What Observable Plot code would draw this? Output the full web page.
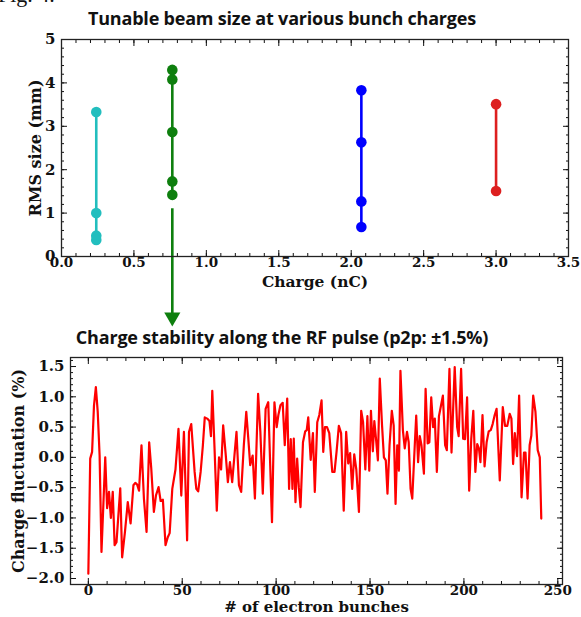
<!DOCTYPE html>
<html><head><meta charset="utf-8">
<script src="https://cdn.jsdelivr.net/npm/d3@7"></script>
<script src="https://cdn.jsdelivr.net/npm/@observablehq/plot@0.6"></script>
<style>
body{margin:0;background:#fff;}
#wrap{position:relative;width:581px;height:617px;overflow:hidden;background:#fff;}
.title{position:absolute;left:0;width:564px;text-align:center;font-family:"Open Sans";font-weight:700;font-size:18px;color:#111;white-space:nowrap;line-height:22px;letter-spacing:-0.2px;}
#fig{position:absolute;left:-2px;top:-18px;font-family:"Liberation Serif";font-size:22px;color:#111;line-height:25px;}
#top{position:absolute;left:0;top:0;}
#bottom{position:absolute;left:0;top:325px;}
</style></head>
<body><div id="wrap">
<div id="bottom"></div>
<div id="top"></div>
<div id="fig">Fig. 4.</div>
<div class="title" style="top:7px">Tunable beam size at various bunch charges</div>
<div class="title" style="top:326px">Charge stability along the RF pulse (p2p: ±1.5%)</div>
</div>
<script>
// ---- Top chart data ----
const beamCharge = [0.24, 0.765, 2.07, 3.0];
const beamSize = [
  [3.33, 1.0, 0.48, 0.38],
  [4.30, 4.08, 2.87, 1.73, 1.42],
  [3.83, 2.63, 1.27, 0.68],
  [3.51, 1.51]
];
const beamColor = ["#22bebe", "#0e7f0e", "#0000ff", "#dd1f1f"];
const arrowCharge = 0.765;
const arrowStart = 1.1;
const arrowEnd = -1.4;
const topXTicks = [0, 0.5, 1.0, 1.5, 2.0, 2.5, 3.0, 3.5];
const topYTicks = [0, 1, 2, 3, 4, 5];

// ---- Bottom chart data ----
const bunch = [0,1,2,3,4,5,6,7,9,10,11,12,13,14,15,17,18,19.5,21,22.5,24,25,26,27,28.3,29.6,31,32.4,33.5,34.9,36,37.4,38.5,39.7,41.1,42.3,43.3,44.7,46.4,48,49.5,50.9,52.6,53.6,54.8,56.6,57.5,58.5,59.8,61,62,63.3,64.5,65.3,66,67.2,68.4,69.6,70.7,71.8,73.2,74.3,75.4,76.6,77.8,78.9,80.2,81.4,82.8,84.1,85.2,86.2,87.5,88.7,90.4,91.6,92.9,94.4,95.8,97.8,99.1,100.3,101.2,102.3,103.5,104.6,105.9,106.9,107.8,108.7,109.4,110.3,111.2,112.1,113,114.3,115.5,116.3,117.1,118.4,119.6,120.6,121.9,123,124.2,125.1,126,127.1,128.3,129.9,131.1,132.2,133.4,134.6,136,137.3,138.4,139.4,140.5,141.6,142.7,144.1,145.3,146.3,147.5,148.6,149.6,150.5,151.5,152.3,153.2,154.2,155.2,156.4,157.4,158.4,159.3,160.4,161.6,162.6,163.6,164.5,165.4,166.2,167.5,168.5,169.7,170.6,171.6,172.5,173.9,174.6,175.6,176.5,177.4,178.7,179.6,180.7,181.6,182.6,183.6,184.5,185.6,186.7,187.7,188.8,190,190.9,192.3,193.4,195.1,196.4,197.2,198.5,199.6,200.6,201.7,202.8,203.9,205,206.1,207.1,208,208.8,209.9,211,212.1,213.2,214.3,215.3,216.4,217.4,219.1,220.7,221.9,223.1,224.4,225.3,226.2,227.1,228.3,229.4,230.7,232,232.8,233.9,235,235.9,236.9,238.1,239.3,240.4,241.2];
const fluctuation = [-1.92,-0.02,0.09,0.85,1.16,0.75,0.03,-1.56,0.0,-0.84,-0.57,-1.0,-0.57,-1.45,-1.4,-0.51,-1.65,-1.23,-0.74,-1.09,-0.46,-0.42,-0.45,-0.55,0.2,-0.68,-1.23,0.25,-0.18,-0.9,-0.63,-0.49,-0.72,-0.7,-1.45,-1.32,-1.25,-0.52,-0.2,0.47,-0.63,0.42,-1.37,0.42,0.55,-0.24,-0.52,-0.56,-0.24,0.2,0.66,0.64,0.6,0.35,1.1,0.15,-0.88,0.0,-0.2,0.53,0.03,-0.41,-0.08,-0.41,0.03,0.42,-0.46,-0.57,0.2,0.75,0.3,-0.13,0.03,-0.68,1.05,0.42,-0.6,0.8,0.91,-1.07,0.91,0.5,0.7,0.86,0.9,0.2,0.97,-0.52,0.3,-0.52,0.31,-0.74,-0.02,-0.5,-0.82,0.25,0.43,0.45,0.66,-0.04,0.4,-0.57,0.58,0.7,0.94,0.09,0.5,0.5,0.4,-0.24,-0.24,0.1,0.52,0.4,-0.88,0.42,-0.1,0.07,-0.52,0.05,-0.2,-0.9,0.77,0.58,-0.2,0.68,-0.22,0.77,0.1,0.6,0.3,-0.05,1.3,0.53,0.0,-0.05,-0.6,0.2,0.77,0.53,-0.77,0.2,-0.22,1.43,0.45,0.15,0.42,0.25,-0.52,-0.68,0.25,0.69,-0.08,0.35,0.2,-0.27,1.13,0.23,0.25,0.99,0.5,0.64,-0.24,0.68,0.84,1.02,0.2,0.12,1.46,0.08,1.49,0.5,0.35,1.46,0.31,0.3,0.99,-0.55,0.3,0.77,-0.24,0.22,0.15,-0.08,0.7,-0.15,0.25,0.43,0.45,0.55,0.7,0.8,-0.38,0.83,0.52,0.52,0.72,0.64,-0.11,0.4,0.02,1.02,-0.66,0.08,0.08,-0.68,0.2,0.36,1.02,0.75,0.12,0.0,-1.01];
const botXTicks = [0, 50, 100, 150, 200, 250];
const botYTicks = [-2.0, -1.5, -1.0, -0.5, 0.0, 0.5, 1.0, 1.5];

const rootStyle = {fontFamily: "'DejaVu Serif'", fontWeight: "bold", fontSize: "15px", color: "#111", background: "transparent", overflow: "visible"};

function tickMarks(xMajor, xMinor, yMajor, yMinor) {
  return [
    Plot.axisX(xMajor, {anchor: "bottom", tickSize: -6, text: null}),
    Plot.axisX(xMinor, {anchor: "bottom", tickSize: -3, text: null}),
    Plot.axisX(xMajor, {anchor: "top", tickSize: -6, text: null}),
    Plot.axisX(xMinor, {anchor: "top", tickSize: -3, text: null}),
    Plot.axisY(yMajor, {anchor: "left", tickSize: -6, text: null}),
    Plot.axisY(yMinor, {anchor: "left", tickSize: -3, text: null}),
    Plot.axisY(yMajor, {anchor: "right", tickSize: -6, text: null}),
    Plot.axisY(yMinor, {anchor: "right", tickSize: -3, text: null})
  ];
}

// ---- Top chart ----
const beamRows = beamCharge.map((c, i) => beamSize[i].map(s => ({charge: c, size: s})));
const topMarks = [
  ...tickMarks(topXTicks, d3.range(0, 36).map(i => i / 10), topYTicks, d3.range(0, 26).map(i => i / 5)),
  Plot.axisX(topXTicks, {anchor: "bottom", tickSize: 0, tickPadding: 1, tickFormat: d3.format(".1f"), label: null, fontSize: 13.5}),
  Plot.axisY(topYTicks, {anchor: "left", tickSize: 0, tickPadding: 6, tickFormat: d3.format("d"), label: null}),
  Plot.text(["Charge (nC)"], {frameAnchor: "bottom", dy: 30, fontSize: 15.5}),
  Plot.text(["RMS size (mm)"], {frameAnchor: "left", textAnchor: "middle", dx: -26, rotate: -90, fontSize: 16}),
  ...beamRows.flatMap((rows, i) => [
    Plot.line(rows, {x: "charge", y: "size", stroke: beamColor[i], strokeWidth: 2.6}),
    Plot.dot(rows, {x: "charge", y: "size", r: 5.3, fill: beamColor[i], stroke: "none"})
  ]),
  Plot.ruleX([{x: arrowCharge, y1: arrowStart, y2: arrowEnd}], {x: "x", y1: "y1", y2: "y2", stroke: beamColor[1], strokeWidth: 2.6}),
  Plot.dot([{x: arrowCharge, y: arrowEnd}], {x: "x", y: "y", symbol: "triangle", r: 6, rotate: 180, fill: beamColor[1], stroke: "none"}),
  Plot.frame({stroke: "#222", strokeWidth: 1.3})
];
const topChart = Plot.plot({
  width: 581, height: 325,
  marginLeft: 61, marginRight: 13, marginTop: 39, marginBottom: 69,
  x: {domain: [0, 3.5]},
  y: {domain: [0, 5]},
  style: rootStyle,
  marks: topMarks
});
document.getElementById("top").appendChild(topChart);

// ---- Bottom chart ----
const botChart = Plot.plot({
  width: 581, height: 292,
  marginLeft: 70, marginRight: 19, marginTop: 32, marginBottom: 33,
  x: {domain: [-9.5, 252.5]},
  y: {domain: [-2.099, 1.649]},
  style: rootStyle,
  marks: [
    ...tickMarks(botXTicks, d3.range(0, 26).map(i => i * 10), botYTicks, d3.range(-20, 17).map(i => i / 10)),
    Plot.axisX(botXTicks, {anchor: "bottom", tickSize: 0, tickPadding: 1, tickFormat: d3.format("d"), label: null, fontSize: 13.5}),
    Plot.axisY(botYTicks, {anchor: "left", tickSize: 0, tickPadding: 6, tickFormat: d3.format(".1f"), label: null}),
    Plot.text(["# of electron bunches"], {frameAnchor: "bottom", dy: 27.5, fontSize: 15}),
    Plot.text(["Charge fluctuation (%)"], {frameAnchor: "left", textAnchor: "middle", dx: -52, rotate: -90, fontSize: 16}),
    Plot.line(fluctuation, {x: bunch, y: fluctuation, stroke: "#f00", strokeWidth: 2.2, strokeLinejoin: "round"}),
    Plot.frame({stroke: "#222", strokeWidth: 1.3})
  ]
});
document.getElementById("bottom").appendChild(botChart);
</script>
</body></html>
